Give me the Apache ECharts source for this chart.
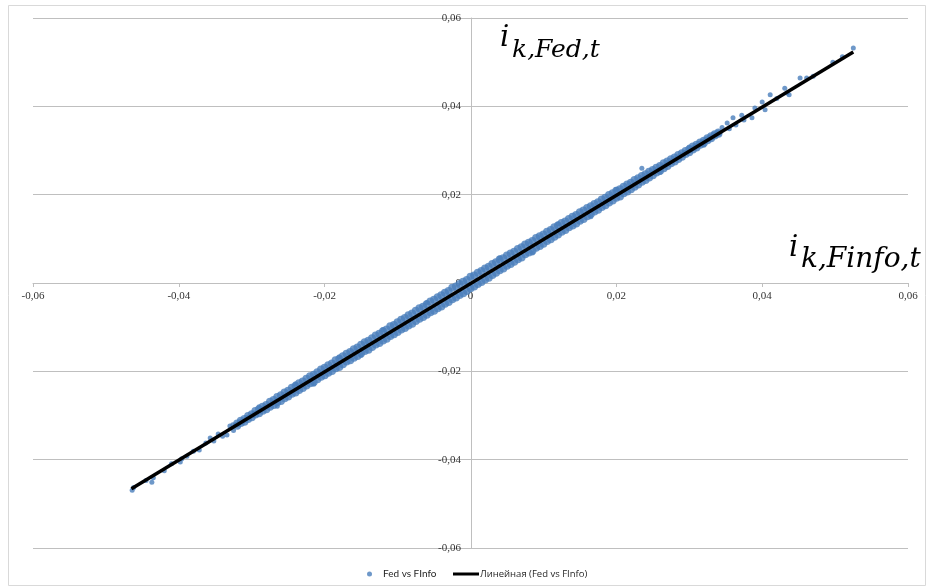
<!DOCTYPE html>
<html>
<head>
<meta charset="utf-8">
<script src="https://cdn.jsdelivr.net/npm/echarts@6/dist/echarts.min.js"></script>
<style>html,body{margin:0;padding:0;background:#fff}#c{width:929px;height:587px}</style>
</head>
<body>
<div id="c"></div>
<script>
// ---- data ----
const seriesNames = ['Fed vs FInfo', 'Линейная (Fed vs FInfo)'];
const axisTicks = [-0.06, -0.04, -0.02, 0, 0.02, 0.04, 0.06];

// sparse points at the lower-left end
const pointsLow = [
[-0.0464,-0.0469],[-0.0462,-0.0463],[-0.0445,-0.0447],[-0.0437,-0.0451],[-0.0435,-0.0441],
[-0.0420,-0.0425],[-0.0410,-0.0409],[-0.0398,-0.0405],[-0.0396,-0.0398],[-0.0389,-0.0392],
[-0.0380,-0.0381],[-0.0372,-0.0378],[-0.0363,-0.0362],[-0.0357,-0.0351],[-0.0352,-0.0358],
[-0.0346,-0.0342],[-0.0340,-0.0347],[-0.0334,-0.0344],[-0.0330,-0.0324],[-0.0326,-0.0321],
[-0.0325,-0.0334]
];
// sparse points at the upper-right end
const pointsHigh = [
[0.0345,0.0352],[0.0352,0.0362],[0.0355,0.0349],[0.0360,0.0374],[0.0364,0.0358],
[0.0372,0.0380],[0.0375,0.0369],[0.0386,0.0374],[0.0390,0.0396],[0.0400,0.0410],
[0.0404,0.0392],[0.0411,0.0426],[0.0420,0.0418],[0.0431,0.0441],[0.0434,0.0430],
[0.0437,0.0426],[0.0452,0.0464],[0.0461,0.0464],[0.0470,0.0468],[0.0497,0.0500],
[0.0510,0.0512],[0.0525,0.0532],[0.0235,0.0260]
];
// points sticking out of the dense band
const pointsEdge = [
[-0.0290,-0.0280],[-0.0265,-0.0279],[-0.0240,-0.0228],[-0.0215,-0.0229],[-0.0180,-0.0167],
[-0.0150,-0.0164],[-0.0120,-0.0105],[-0.0060,-0.0044],[0.0040,0.0057],[0.0085,0.0068],
[0.0120,0.0134],[0.0165,0.0150],[0.0200,0.0212],[0.0260,0.0250],[0.0300,0.0308],
[0.0320,0.0312]
];
// dense band, upper edge
const bandUpper = [
[-0.0320,-0.0318],[-0.0315,-0.0312],[-0.0310,-0.0308],[-0.0305,-0.0301],[-0.0300,-0.0297],
[-0.0295,-0.0290],[-0.0290,-0.0286],[-0.0285,-0.0280],[-0.0280,-0.0276],[-0.0275,-0.0269],
[-0.0270,-0.0265],[-0.0265,-0.0258],[-0.0260,-0.0254],[-0.0255,-0.0248],[-0.0250,-0.0244],
[-0.0245,-0.0237],[-0.0240,-0.0233],[-0.0235,-0.0227],[-0.0230,-0.0223],[-0.0225,-0.0217],
[-0.0220,-0.0211],[-0.0215,-0.0208],[-0.0210,-0.0202],[-0.0205,-0.0196],[-0.0200,-0.0192],
[-0.0195,-0.0186],[-0.0190,-0.0182],[-0.0185,-0.0175],[-0.0180,-0.0172],[-0.0175,-0.0166],
[-0.0170,-0.0160],[-0.0165,-0.0156],[-0.0160,-0.0150],[-0.0155,-0.0146],[-0.0150,-0.0140],
[-0.0145,-0.0134],[-0.0140,-0.0131],[-0.0135,-0.0125],[-0.0130,-0.0119],[-0.0125,-0.0115],
[-0.0120,-0.0109],[-0.0115,-0.0105],[-0.0110,-0.0098],[-0.0105,-0.0095],[-0.0100,-0.0089],
[-0.0095,-0.0083],[-0.0090,-0.0079],[-0.0085,-0.0073],[-0.0080,-0.0069],[-0.0075,-0.0063],
[-0.0070,-0.0057],[-0.0065,-0.0054],[-0.0060,-0.0048],[-0.0055,-0.0042],[-0.0050,-0.0038],
[-0.0045,-0.0032],[-0.0040,-0.0028],[-0.0035,-0.0022],[-0.0030,-0.0018],[-0.0025,-0.0011],
[-0.0020,-0.0008],[-0.0015,-0.0002],[-0.0010,0.0003],[-0.0005,0.0007],[0.0000,0.0014],
[0.0005,0.0017],[0.0010,0.0023],[0.0015,0.0027],[0.0020,0.0033],[0.0025,0.0037],
[0.0030,0.0043],[0.0035,0.0047],[0.0040,0.0053],[0.0045,0.0056],[0.0050,0.0062],
[0.0055,0.0067],[0.0060,0.0071],[0.0065,0.0077],[0.0070,0.0081],[0.0075,0.0087],
[0.0080,0.0091],[0.0085,0.0095],[0.0090,0.0102],[0.0095,0.0106],[0.0100,0.0110],
[0.0105,0.0116],[0.0110,0.0120],[0.0115,0.0126],[0.0120,0.0130],[0.0125,0.0136],
[0.0130,0.0139],[0.0135,0.0145],[0.0140,0.0150],[0.0145,0.0154],[0.0150,0.0160],
[0.0155,0.0164],[0.0160,0.0170],[0.0165,0.0174],[0.0170,0.0179],[0.0175,0.0183],
[0.0180,0.0189],[0.0185,0.0193],[0.0190,0.0199],[0.0195,0.0203],[0.0200,0.0209],
[0.0205,0.0212],[0.0210,0.0218],[0.0215,0.0223],[0.0220,0.0227],[0.0225,0.0233],
[0.0230,0.0237],[0.0235,0.0242],[0.0240,0.0246],[0.0245,0.0252],[0.0250,0.0256],
[0.0255,0.0261],[0.0260,0.0265],[0.0265,0.0271],[0.0270,0.0275],[0.0275,0.0280],
[0.0280,0.0284],[0.0285,0.0290],[0.0290,0.0294],[0.0295,0.0299],[0.0300,0.0303],
[0.0305,0.0309],[0.0310,0.0313],[0.0315,0.0318],[0.0320,0.0322],[0.0325,0.0328],
[0.0330,0.0332],[0.0335,0.0337],[0.0340,0.0341]
];
// dense band, lower edge
const bandLower = [
[-0.0320,-0.0323],[-0.0315,-0.0317],[-0.0310,-0.0314],[-0.0305,-0.0308],[-0.0300,-0.0304],
[-0.0295,-0.0298],[-0.0290,-0.0295],[-0.0285,-0.0289],[-0.0280,-0.0286],[-0.0275,-0.0280],
[-0.0270,-0.0276],[-0.0265,-0.0270],[-0.0260,-0.0267],[-0.0255,-0.0261],[-0.0250,-0.0257],
[-0.0245,-0.0251],[-0.0240,-0.0248],[-0.0235,-0.0242],[-0.0230,-0.0238],[-0.0225,-0.0232],
[-0.0220,-0.0227],[-0.0215,-0.0224],[-0.0210,-0.0218],[-0.0205,-0.0212],[-0.0200,-0.0209],
[-0.0195,-0.0203],[-0.0190,-0.0199],[-0.0185,-0.0193],[-0.0180,-0.0190],[-0.0175,-0.0184],
[-0.0170,-0.0178],[-0.0165,-0.0175],[-0.0160,-0.0169],[-0.0155,-0.0165],[-0.0150,-0.0159],
[-0.0145,-0.0154],[-0.0140,-0.0151],[-0.0135,-0.0145],[-0.0130,-0.0139],[-0.0125,-0.0136],
[-0.0120,-0.0130],[-0.0115,-0.0126],[-0.0110,-0.0120],[-0.0105,-0.0116],[-0.0100,-0.0111],
[-0.0095,-0.0105],[-0.0090,-0.0102],[-0.0085,-0.0096],[-0.0080,-0.0092],[-0.0075,-0.0086],
[-0.0070,-0.0081],[-0.0065,-0.0077],[-0.0060,-0.0072],[-0.0055,-0.0066],[-0.0050,-0.0063],
[-0.0045,-0.0057],[-0.0040,-0.0053],[-0.0035,-0.0047],[-0.0030,-0.0043],[-0.0025,-0.0037],
[-0.0020,-0.0033],[-0.0015,-0.0027],[-0.0010,-0.0023],[-0.0005,-0.0018],[0.0000,-0.0012],
[0.0005,-0.0008],[0.0010,-0.0002],[0.0015,0.0002],[0.0020,0.0008],[0.0025,0.0012],
[0.0030,0.0018],[0.0035,0.0023],[0.0040,0.0029],[0.0045,0.0033],[0.0050,0.0039],
[0.0055,0.0043],[0.0060,0.0048],[0.0065,0.0054],[0.0070,0.0058],[0.0075,0.0065],
[0.0080,0.0069],[0.0085,0.0073],[0.0090,0.0080],[0.0095,0.0084],[0.0100,0.0089],
[0.0105,0.0095],[0.0110,0.0099],[0.0115,0.0105],[0.0120,0.0110],[0.0125,0.0116],
[0.0130,0.0120],[0.0135,0.0126],[0.0140,0.0130],[0.0145,0.0135],[0.0150,0.0141],
[0.0155,0.0145],[0.0160,0.0151],[0.0165,0.0156],[0.0170,0.0162],[0.0175,0.0166],
[0.0180,0.0172],[0.0185,0.0176],[0.0190,0.0182],[0.0195,0.0187],[0.0200,0.0193],
[0.0205,0.0196],[0.0210,0.0203],[0.0215,0.0207],[0.0220,0.0212],[0.0225,0.0218],
[0.0230,0.0223],[0.0235,0.0229],[0.0240,0.0233],[0.0245,0.0239],[0.0250,0.0244],
[0.0255,0.0250],[0.0260,0.0254],[0.0265,0.0260],[0.0270,0.0265],[0.0275,0.0271],
[0.0280,0.0275],[0.0285,0.0281],[0.0290,0.0286],[0.0295,0.0292],[0.0300,0.0296],
[0.0305,0.0302],[0.0310,0.0307],[0.0315,0.0313],[0.0320,0.0317],[0.0325,0.0323],
[0.0330,0.0328],[0.0335,0.0334],[0.0340,0.0338]
];
// linear trend line end points
const trendX = [-0.0465, 0.0525];
const trendY = [-0.0466, 0.0523];

// ---- chart ----
const sparseData = pointsLow.concat(pointsEdge, pointsHigh);
const bandData = bandLower.concat(bandUpper);
const trendData = trendX.map((x, i) => [x, trendY[i]]);
const fmt = v => (Math.abs(v) < 1e-12 ? '0' : v.toFixed(2).replace('.', ','));
const gray = '#bfbfbf';
const blue = '#4a7ebb';

const chart = echarts.init(document.getElementById('c'), null, {renderer: 'canvas'});
chart.setOption({
  backgroundColor: '#fff',
  animation: false,
  grid: {left: 33, right: 21, top: 18, bottom: 39, containLabel: false},
  xAxis: {
    type: 'value', min: axisTicks[0], max: axisTicks[axisTicks.length - 1], interval: 0.02,
    offset: -265,
    axisLine: {onZero: false, lineStyle: {color: gray, width: 1}},
    axisTick: {show: true, length: 4, lineStyle: {color: gray}},
    splitLine: {show: false},
    axisLabel: {formatter: fmt, margin: 8, fontFamily: 'Liberation Serif', fontSize: 11, color: '#333'}
  },
  yAxis: {
    type: 'value', min: axisTicks[0], max: axisTicks[axisTicks.length - 1], interval: 0.02,
    offset: -438,
    axisLine: {onZero: false, lineStyle: {color: gray, width: 1}},
    axisTick: {show: true, length: 4, lineStyle: {color: gray}},
    splitLine: {show: true, lineStyle: {color: gray, width: 1}},
    axisLabel: {formatter: fmt, margin: 10, fontFamily: 'Liberation Serif', fontSize: 11, color: '#333'}
  },
  legend: [
    {data: [seriesNames[0]], left: 362, top: 564, itemWidth: 5, itemHeight: 5, icon: 'circle',
     textStyle: {fontFamily: 'Lato, "Open Sans"', fontSize: 10, color: '#262626', padding: [0,0,0,6]}},
    {data: [seriesNames[1]], left: 448, top: 564, itemWidth: 26, itemHeight: 3, icon: 'rect',
     textStyle: {fontFamily: '"Open Sans"', fontSize: 9.5, color: '#262626', padding: [0,0,0,-4]}}
  ],
  series: [
    {name: seriesNames[0], type: 'scatter', data: bandData, symbol: 'circle', symbolSize: 8,
     itemStyle: {color: blue}, z: 2, silent: true},
    {name: seriesNames[0], type: 'scatter', data: sparseData, symbol: 'circle', symbolSize: 5,
     itemStyle: {color: blue}, z: 2, silent: true},
    {name: seriesNames[1], type: 'line', data: trendData, showSymbol: false, symbol: 'none',
     lineStyle: {color: '#000', width: 3.5}, itemStyle: {color: '#000'}, z: 3, silent: true}
  ],
  graphic: [
    {type: 'rect', shape: {x: 8.5, y: 5.5, width: 917, height: 580}, style: {fill: 'none', stroke: '#d9d9d9', lineWidth: 1}, z: -1},
    {type: 'text', x: 500, y: 38, style: {text: 'i', font: 'italic 29px "DejaVu Serif"', fill: '#000', verticalAlign: 'middle'}},
    {type: 'text', x: 512, y: 50, style: {text: 'k,Fed,t', font: 'italic 25px "DejaVu Serif"', fill: '#000', verticalAlign: 'middle'}},
    {type: 'text', x: 789, y: 248, style: {text: 'i', font: 'italic 29px "DejaVu Serif"', fill: '#000', verticalAlign: 'middle'}},
    {type: 'text', x: 801, y: 260, style: {text: 'k,Finfo,t', font: 'italic 28px "DejaVu Serif"', fill: '#000', verticalAlign: 'middle'}}
  ]
});
</script>
</body>
</html>
